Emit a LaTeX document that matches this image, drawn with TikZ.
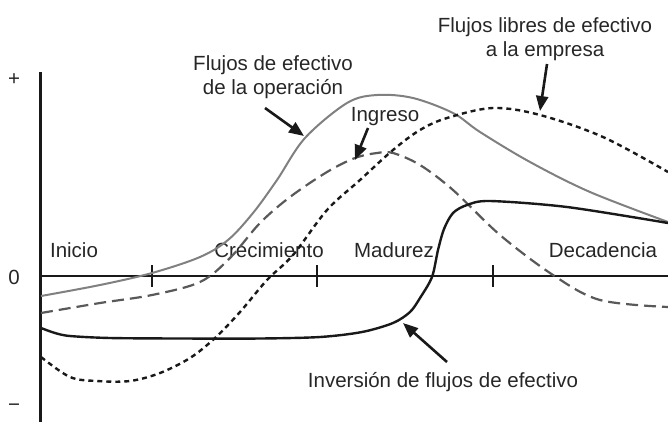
\documentclass[tikz,border=0pt]{standalone}
\usepackage{fontspec}
\setmainfont{Liberation Sans}
\usetikzlibrary{arrows.meta}
\begin{document}
\begin{tikzpicture}[x=1pt,y=-1pt,
  lbl/.style={font=\fontsize{20.5}{24}\selectfont, text=black!85, inner sep=0pt},
  axisline/.style={line width=2.4pt, black!90},
  opcurve/.style={line width=2pt, black!50},
  ingcurve/.style={line width=2.2pt, black!65, dash pattern=on 12pt off 6pt},
  freecurve/.style={line width=2.4pt, black!90, dash pattern=on 5pt off 4pt},
  invcurve/.style={line width=2.4pt, black!90},
  pointer/.style={line width=2.6pt, black!90, -{Triangle[length=15pt,width=12pt]}}]
\useasboundingbox (0,0) rectangle (668,421);
% axes
\coordinate (ytop) at (40.5,72);
\coordinate (ybot) at (40.5,425);
\coordinate (xl) at (40.5,276);
\coordinate (xr) at (670,276);
\draw[axisline] (ytop) -- (ybot);
\draw[axisline] (xl) -- (xr);
\foreach \tx in {152,317,493}{\draw[axisline] (\tx,265) -- (\tx,287);}
% axis labels
\node[lbl] (plus) at (14,80) {+};
\node[lbl] (zero) at (14,277) {0};
\node[lbl] (minus) at (14,408) {−};
\node[lbl] (inicio) at (74,250) {Inicio};
\node[lbl] (crec) at (269,250) {Crecimiento};
\node[lbl] (madur) at (394,250) {Madurez};
\node[lbl] (decad) at (603,250) {Decadencia};
% curves
\draw[opcurve] plot[smooth, tension=0.55] coordinates {(41,296) (100,285) (152,273) (200,257) (228,240) (253,213) (277,180) (305,138) (347,103) (377,95) (413,98) (453,113) (480,132) (530,162) (590,192) (668,222)};
\draw[ingcurve] plot[smooth, tension=0.55] coordinates {(41,313) (100,303) (152,295) (200,282) (230,258) (260,223) (290,197) (327,172) (355,158) (377,153) (393,153) (420,165) (453,190) (500,235) (553,275) (600,300) (668,307)};
\draw[freecurve] plot[smooth, tension=0.55] coordinates {(41,357) (70,377) (97,381) (130,381) (160,373) (190,358) (215,338) (240,312) (267,280) (293,255) (327,210) (360,180) (393,150) (420,130) (447,118) (493,108) (540,115) (603,137) (668,172)};
\draw[invcurve] plot[smooth, tension=0.5] coordinates {(41,328) (55,333) (70,336) (110,338) (180,338.5) (260,338.5) (320,337) (362,332) (393,323) (410,312) (420,298) (432,277) (438,250) (444,229) (453,213) (467,205) (490,201) (567,207) (668,223)};
% labels
\node[lbl, align=center] (oplbl) at (273,77) {Flujos de efectivo\\de la operación};
\node[lbl] (inglbl) at (385,117) {Ingreso};
\node[lbl, align=center] (freelbl) at (545,39) {Flujos libres de efectivo\\a la empresa};
\node[lbl] (invlbl) at (443,382) {Inversión de flujos de efectivo};
% pointers
\coordinate (opTail) at (265,108);
\coordinate (opTip) at (304,136);
\coordinate (ingTail) at (368,128);
\coordinate (ingTip) at (355,160);
\coordinate (freeTail) at (547,64);
\coordinate (freeTip) at (540,111);
\coordinate (invTail) at (447,362);
\coordinate (invTip) at (403,323);
\draw[pointer] (opTail) -- (opTip);
\draw[pointer] (ingTail) -- (ingTip);
\draw[pointer] (freeTail) -- (freeTip);
\draw[pointer] (invTail) -- (invTip);
\end{tikzpicture}
\end{document}
